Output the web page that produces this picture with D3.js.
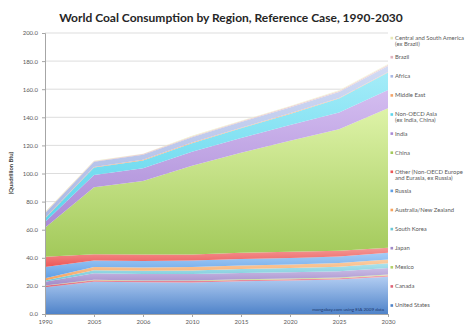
<!DOCTYPE html>
<html>
<head>
<meta charset="utf-8">
<script src="https://cdn.jsdelivr.net/npm/d3@7/dist/d3.min.js"></script>
<style>
  body { margin: 0; background: #fff; }
  svg { display: block; }
</style>
</head>
<body>
<svg id="chart" width="475" height="329"></svg>
<script>
// World coal consumption, quadrillion Btu
const years = ["1990", "2005", "2006", "2010", "2015", "2020", "2025", "2030"];

const unitedStates   = [19.0, 23.0, 22.6, 22.5, 23.3, 23.8, 24.5, 26.5];
const canada         = [1.1, 1.0, 0.9, 0.9, 0.9, 0.9, 0.9, 1.0];
const mexico         = [0.1, 0.4, 0.4, 0.4, 0.5, 0.6, 0.6, 0.7];
const japan          = [2.7, 4.6, 4.6, 4.6, 4.5, 4.5, 4.5, 4.5];
const southKorea     = [1.0, 2.1, 2.2, 2.6, 2.8, 3.0, 3.2, 3.4];
const australiaNZ    = [1.5, 2.4, 2.4, 2.4, 2.5, 2.5, 2.6, 2.7];
const russia         = [8.0, 4.6, 4.7, 4.6, 4.6, 4.6, 4.7, 4.8];
const otherEurasia   = [7.3, 4.4, 4.5, 4.4, 4.5, 4.4, 4.0, 3.6];
const china          = [20.7, 47.7, 52.3, 63.2, 71.2, 79.0, 86.5, 99.2];
const india          = [4.0, 8.7, 9.1, 9.8, 10.5, 11.3, 12.0, 13.0];
const otherAsia      = [2.6, 5.4, 5.6, 6.2, 6.9, 7.8, 9.8, 12.4];
const middleEast     = [0.3, 0.4, 0.4, 0.4, 0.4, 0.4, 0.4, 0.4];
const africa         = [3.4, 3.6, 3.6, 3.8, 4.0, 4.1, 4.3, 4.4];
const brazil         = [0.4, 0.5, 0.5, 0.6, 0.6, 0.7, 0.7, 0.8];
const centralSouthAm = [0.5, 0.3, 0.3, 0.4, 0.4, 0.4, 0.5, 0.5];

const yTicks = [0, 20, 40, 60, 80, 100, 120, 140, 160, 180, 200];

// Stacking order, bottom to top
const regions = [
  { key: "us",   label: ["United States"], values: unitedStates, color: "#4f83c9", light: "#b2cdf2" },
  { key: "can",  label: ["Canada"], values: canada, color: "#de6478", light: "#f2a8b4" },
  { key: "mex",  label: ["Mexico"], values: mexico, color: "#b3d069", light: "#d6e8a8" },
  { key: "jpn",  label: ["Japan"], values: japan, color: "#a08ac8", light: "#cbbde6" },
  { key: "kor",  label: ["South Korea"], values: southKorea, color: "#6cc6d6", light: "#aee2ec" },
  { key: "aus",  label: ["Australia/New Zealand"], values: australiaNZ, color: "#f5a25e", light: "#fbcfa6" },
  { key: "rus",  label: ["Russia"], values: russia, color: "#5f9fe6", light: "#a6cdf6" },
  { key: "oth",  label: ["Other (Non-OECD Europe", "and Eurasia, ex Russia)"], values: otherEurasia, color: "#ec5656", light: "#f49a98" },
  { key: "chn",  label: ["China"], values: china, color: "#a2c95a", light: "#def3a8" },
  { key: "ind",  label: ["India"], values: india, color: "#a98ad6", light: "#d4bdf0" },
  { key: "asia", label: ["Non-OECD Asia", "(ex India, China)"], values: otherAsia, color: "#5cd4ec", light: "#a4ecf8" },
  { key: "me",   label: ["Middle East"], values: middleEast, color: "#f3a46a", light: "#f9cca8" },
  { key: "afr",  label: ["Africa"], values: africa, color: "#a9b8e4", light: "#d2dbf4" },
  { key: "bra",  label: ["Brazil"], values: brazil, color: "#dfb4c0", light: "#f0d8de" },
  { key: "csa",  label: ["Central and South America", "(ex Brazil)"], values: centralSouthAm, color: "#e6e8b8", light: "#f6f7dc" }
];

const rows = years.map((yr, i) => {
  const row = { year: yr };
  regions.forEach(r => { row[r.key] = r.values[i]; });
  return row;
});

const svg = d3.select("#chart");
const font = "Lato, 'Open Sans', sans-serif";

const x = d3.scalePoint().domain(years).range([45, 388]);
const y = d3.scaleLinear().domain([0, 200]).range([314, 33]);

// Gradients: lighter at the top of each band
const defs = svg.append("defs");
regions.forEach(r => {
  const g = defs.append("linearGradient")
    .attr("id", "grad-" + r.key)
    .attr("x1", 0).attr("y1", 0).attr("x2", 0).attr("y2", 1);
  g.append("stop").attr("offset", "0%").attr("stop-color", r.light);
  g.append("stop").attr("offset", "100%").attr("stop-color", r.color);
});

// Title
const title = svg.append("text")
  .attr("x", 231).attr("y", 22)
  .attr("text-anchor", "middle")
  .attr("font-family", font).attr("font-weight", "bold")
  .attr("font-size", 11.5).attr("fill", "#262626")
  .text("World Coal Consumption by Region, Reference Case, 1990-2030");
const tw = title.node().getComputedTextLength();
title.attr("font-size", 11.5 * 344 / tw);

// Gridlines
svg.append("g").selectAll("line").data(yTicks.filter(d => d > 0)).join("line")
  .attr("x1", 45).attr("x2", 388)
  .attr("y1", d => y(d)).attr("y2", d => y(d))
  .attr("stroke", "#d4d4d4").attr("stroke-width", 0.8);

// Stacked areas
const stack = d3.stack().keys(regions.map(r => r.key));
const series = stack(rows);
const area = d3.area()
  .x(d => x(d.data.year))
  .y0(d => y(d[0]))
  .y1(d => y(d[1]));

svg.append("g").selectAll("path").data(series).join("path")
  .attr("d", area)
  .attr("fill", d => "url(#grad-" + d.key + ")");

// Y axis
const yAxis = svg.append("g").attr("transform", "translate(45,0)")
  .call(d3.axisLeft(y).tickValues(yTicks).tickFormat(d3.format(".1f")).tickSize(3).tickPadding(4));
yAxis.select(".domain").attr("stroke", "#a6a6a6");
yAxis.selectAll(".tick line").attr("stroke", "#a6a6a6");
yAxis.selectAll("text").attr("font-family", font).attr("font-size", 6).attr("fill", "#595959");

// X axis
const xAxis = svg.append("g").attr("transform", "translate(0,314)")
  .call(d3.axisBottom(x).tickSize(3).tickPadding(3));
xAxis.select(".domain").attr("stroke", "#a6a6a6");
xAxis.selectAll(".tick line").attr("stroke", "#a6a6a6");
xAxis.selectAll("text").attr("font-family", font).attr("font-size", 6).attr("fill", "#595959");

// Y axis title
svg.append("text")
  .attr("transform", "translate(13,173) rotate(-90)")
  .attr("text-anchor", "middle")
  .attr("font-family", font).attr("font-weight", "bold")
  .attr("font-size", 5.8).attr("fill", "#404040")
  .text("(Quadrillion Btu)");

// Source note
svg.append("text")
  .attr("x", 384).attr("y", 311)
  .attr("text-anchor", "end")
  .attr("font-family", font).attr("font-size", 4.6).attr("fill", "#1f3a6e")
  .text("mongabay.com using EIA 2009 data");

// Legend, top to bottom
const legend = svg.append("g");
const legendOrder = regions.slice().reverse();
legendOrder.forEach((r, i) => {
  const ly = 40 + i * 19.1;
  legend.append("rect")
    .attr("x", 390.5).attr("y", ly - 3.2).attr("width", 2.6).attr("height", 2.6)
    .attr("fill", r.color);
  r.label.forEach((t, j) => {
    legend.append("text")
      .attr("x", 395).attr("y", ly + j * 5.8)
      .attr("font-family", font).attr("font-size", 5.9).attr("fill", "#595959")
      .text(t);
  });
});
</script>
</body>
</html>
